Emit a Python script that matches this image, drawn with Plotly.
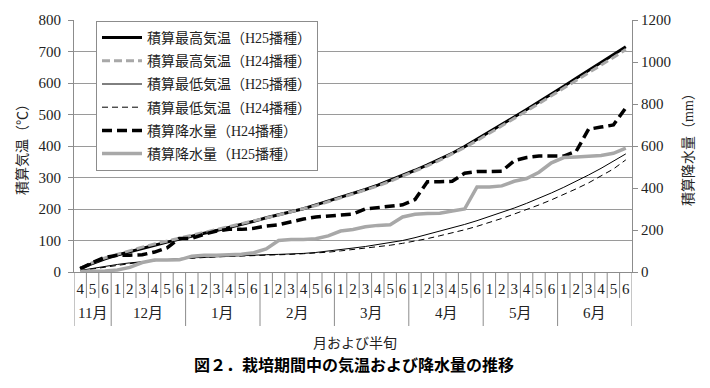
import plotly.graph_objects as go

# ---------------- data ----------------
month_names = ["11月", "12月", "1月", "2月", "3月", "4月", "5月", "6月"]
halves_in_month = [[4, 5, 6]] + [[1, 2, 3, 4, 5, 6]] * 7

period_month = [m for m, hs in zip(month_names, halves_in_month) for _ in hs]
period_half = [str(h) for hs in halves_in_month for h in hs]
period_key = [f"{m}-{h}" for m, h in zip(period_month, period_half)]

# cumulative temperatures (left axis, ℃)
max_h25 = [12, 28, 42, 54, 65, 75, 85, 95, 105, 114, 123, 132, 141, 151, 161,
           172, 181, 191, 201, 213, 225, 237, 249, 262, 276, 291, 307, 323, 340,
           358, 377, 398, 421, 444, 468, 492, 516, 540, 565, 590, 615, 640, 665,
           690, 715]
max_h24 = [10, 30, 45, 57, 68, 79, 89, 98, 108, 117, 126, 135, 144, 153, 163,
           172, 181, 191, 200, 211, 223, 235, 247, 260, 273, 288, 304, 320, 337,
           355, 374, 395, 417, 440, 463, 487, 511, 535, 559, 583, 608, 632, 657,
           681, 706]
min_h25 = [5, 12, 18, 24, 29, 33, 37, 40, 43, 45, 47, 48, 50, 51, 53, 55, 56,
           57, 59, 62, 66, 71, 76, 81, 87, 93, 100, 109, 119, 129, 140, 151, 163,
           176, 189, 203, 218, 234, 251, 269, 288, 308, 329, 351, 375]
min_h24 = [4, 10, 16, 22, 27, 32, 36, 39, 42, 44, 46, 48, 49, 51, 52, 54, 55,
           56, 58, 60, 63, 67, 71, 75, 80, 85, 91, 98, 106, 115, 124, 134, 145,
           157, 170, 184, 198, 213, 229, 246, 264, 283, 304, 327, 356]

# cumulative precipitation (right axis, mm)
rain_h24 = [15, 45, 70, 80, 80, 82, 95, 115, 160, 160, 180, 195, 203, 203, 208,
            219, 225, 240, 252, 262, 268, 270, 276, 300, 308, 313, 320, 345, 430,
            430, 432, 470, 478, 478, 480, 530, 545, 552, 553, 552, 575, 680, 690,
            700, 782]
rain_h25 = [2, 3, 5, 10, 22, 45, 57, 57, 58, 75, 80, 80, 82, 85, 92, 110, 150,
            155, 155, 158, 172, 195, 202, 215, 222, 225, 262, 275, 278, 280, 290,
            300, 405, 405, 410, 432, 445, 475, 520, 545, 548, 550, 555, 565, 590]

# ---------------- figure ----------------
SERIF = "'Liberation Serif', 'Noto Sans CJK JP', serif"
GREY = "#a8a8a8"
AXIS = "#8c8c8c"
TXT = "#222"

series = [
    ("積算最高気温（H25播種）", max_h25, "y", dict(color="black", width=3)),
    ("積算最高気温（H24播種）", max_h24, "y", dict(color=GREY, width=3, dash="8px,4px")),
    ("積算最低気温（H25播種）", min_h25, "y", dict(color="black", width=1)),
    ("積算最低気温（H24播種）", min_h24, "y", dict(color="black", width=1, dash="6px,4px")),
    ("積算降水量（H24播種）", rain_h24, "y2", dict(color="black", width=3.5, dash="10px,5px")),
    ("積算降水量（H25播種）", rain_h25, "y2", dict(color=GREY, width=3.5)),
]

fig = go.Figure()
for k, (name, vals, yax, line) in enumerate(series):
    fig.add_trace(go.Scatter(x=period_key, y=vals, name=name, mode="lines",
                             yaxis=yax, line=line, legendgroup=f"g{k}"))

n = len(period_key)
plot_h = 252.0

# dividers under the axis: short between half-months, long between months
shapes = []
month_bounds = [-0.5]
acc = -0.5
for hs in halves_in_month:
    acc += len(hs)
    month_bounds.append(acc)
for i in range(n + 1):
    b = i - 0.5
    depth = 54 if b in month_bounds else 26
    shapes.append(dict(type="line", xref="x", yref="paper", x0=b, x1=b,
                       y0=0, y1=-depth / plot_h, line=dict(color=AXIS, width=1)))

annotations = []
start = 0
for m, hs in zip(month_names, halves_in_month):
    center = start + (len(hs) - 1) / 2
    annotations.append(dict(x=center, y=-41 / plot_h, xref="x", yref="paper",
                            text=m, showarrow=False, yanchor="middle",
                            font=dict(family=SERIF, size=15, color=TXT)))
    start += len(hs)

annotations += [
    dict(x=(355 - 74) / 558, y=-(343 - 272) / plot_h, xref="paper", yref="paper",
         text="月および半旬", showarrow=False, yanchor="middle",
         font=dict(family=SERIF, size=14, color=TXT)),
    dict(x=(354 - 74) / 558, y=-(364 - 272) / plot_h, xref="paper", yref="paper",
         text="<b>図２．栽培期間中の気温および降水量の推移</b>", showarrow=False,
         yanchor="middle", font=dict(family="Noto Sans CJK JP", size=16, color="black")),
    dict(x=(22 - 74) / 558, y=0.5, xref="paper", yref="paper", textangle=-90,
         text="積算気温（℃）", showarrow=False, xanchor="center", yanchor="middle",
         font=dict(family=SERIF, size=14, color=TXT)),
    dict(x=(688 - 74) / 558, y=0.5, xref="paper", yref="paper", textangle=-90,
         text="積算降水量（mm）", showarrow=False, xanchor="center", yanchor="middle",
         font=dict(family=SERIF, size=14, color=TXT)),
]

# page body has an 8px margin: figure is 702x380 so the plot area sits at
# page pixels x 74..632, y 20..272
fig.update_layout(
    width=702, height=380,
    margin=dict(l=66, r=78, t=12, b=116),
    paper_bgcolor="white", plot_bgcolor="white",
    font=dict(family=SERIF, size=15, color=TXT),
    showlegend=True,
    legend=dict(x=(96 - 74) / 558, y=1 - 1 / plot_h, xanchor="left", yanchor="top",
                bgcolor="white", bordercolor=AXIS, borderwidth=1,
                font=dict(family=SERIF, size=14, color=TXT),
                itemwidth=40, tracegroupgap=2),
    xaxis=dict(type="category", range=[-0.5, n - 0.5], automargin=False,
               tickmode="array", tickvals=period_key, ticktext=period_half,
               ticks="", ticklabelstandoff=3,
               showline=True, linecolor=AXIS, linewidth=1,
               showgrid=False, zeroline=False,
               tickfont=dict(family=SERIF, size=15, color=TXT)),
    yaxis=dict(range=[0, 800], dtick=100, ticks="outside", ticklen=5,
               automargin=False,
               tickcolor=AXIS, showline=True, linecolor=AXIS, linewidth=1,
               showgrid=True, gridcolor="#9a9a9a", gridwidth=1, zeroline=False,
               ticklabelstandoff=4,
               tickfont=dict(family=SERIF, size=15, color=TXT)),
    yaxis2=dict(range=[0, 1200], dtick=200, overlaying="y", side="right",
                automargin=False,
                ticks="outside", ticklen=5, tickcolor=AXIS, showline=True,
                linecolor=AXIS, linewidth=1, showgrid=False, zeroline=False,
                tickfont=dict(family=SERIF, size=15, color=TXT)),
    shapes=shapes,
    annotations=annotations,
)

fig.write_html("out.html")
